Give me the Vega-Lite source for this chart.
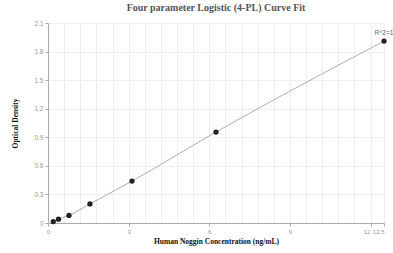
{
  "$schema": "https://vega.github.io/schema/vega-lite/v6.json",
  "width": 336,
  "height": 200,
  "autosize": {"type": "none"},
  "padding": {"left": 48, "top": 23, "right": 9, "bottom": 30},
  "background": "white",
  "title": {
    "text": "Four parameter Logistic (4-PL) Curve Fit",
    "font": "Liberation Serif",
    "fontSize": 10,
    "fontWeight": "bold",
    "color": "#555",
    "anchor": "middle",
    "offset": 7
  },
  "config": {
    "view": {"stroke": null},
    "axis": {
      "labelFont": "Liberation Sans",
      "labelFontSize": 6.5,
      "labelColor": "#999",
      "titleFont": "Liberation Serif",
      "titleFontSize": 7.5,
      "titleFontWeight": "bold",
      "titleColor": "#111",
      "domainColor": "#aaa",
      "tickColor": "#aaa",
      "gridColor": "#eee",
      "tickSize": 3,
      "labelOverlap": false
    }
  },
  "data": {
    "values": [
      {"conc": 0.195, "od": 0.015},
      {"conc": 0.39, "od": 0.04},
      {"conc": 0.78, "od": 0.08},
      {"conc": 1.56, "od": 0.2},
      {"conc": 3.125, "od": 0.44},
      {"conc": 6.25, "od": 0.955},
      {"conc": 12.5, "od": 1.91}
    ]
  },
  "encoding": {
    "x": {
      "field": "conc",
      "type": "quantitative",
      "scale": {"domain": [0, 12.5], "nice": false, "zero": true},
      "axis": {
        "title": "Human Noggin Concentration (ng/mL)",
        "titlePadding": 3,
        "labelFontSize": 6,
        "values": [0, 0.6, 1.2, 1.8, 2.4, 3, 3.6, 4.2, 4.8, 5.4, 6, 6.6, 7.2, 7.8, 8.4, 9, 9.6, 10.2, 10.8, 11.4, 12, 12.5],
        "labelExpr": "indexof([0,3,6,9,12,12.5], datum.value) >= 0 ? toString(datum.value) : ''",
        "labelAlign": {"condition": {"test": "datum.value == 12.5", "value": "right"}, "value": "center"},
        "labelOffset": {"condition": {"test": "datum.value == 12", "value": -4}, "value": 0},
        "tickOpacity": {"condition": {"test": "indexof([0,3,6,9,12,12.5], datum.value) >= 0", "value": 1}, "value": 0},
        "grid": true,
        "labelPadding": 2
      }
    },
    "y": {
      "field": "od",
      "type": "quantitative",
      "scale": {"domain": [0, 2.1], "nice": false},
      "axis": {
        "title": "Optical Density",
        "values": [0, 0.3, 0.6, 0.9, 1.2, 1.5, 1.8, 2.1],
        "labelExpr": "toString(datum.value)",
        "grid": true,
        "titlePadding": 14,
        "labelPadding": 2
      }
    }
  },
  "layer": [
    {
      "mark": {"type": "line", "color": "#999", "strokeWidth": 0.8, "interpolate": "monotone"}
    },
    {
      "mark": {"type": "point", "filled": true, "color": "#222", "size": 28, "opacity": 1}
    },
    {
      "transform": [{"filter": "datum.conc == 12.5"}],
      "mark": {"type": "text", "dy": -8, "align": "center", "fontSize": 6.5, "font": "Liberation Sans", "color": "#666"},
      "encoding": {"text": {"value": "R^2=1"}}
    }
  ]
}
